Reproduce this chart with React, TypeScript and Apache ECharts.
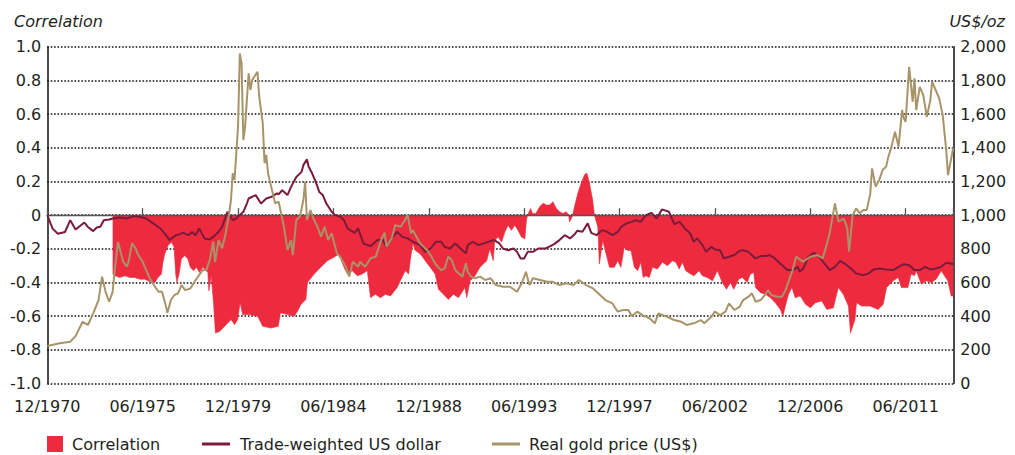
import React, { useEffect, useRef } from "react";
import * as echarts from "echarts";

// x values are months after December 1970
const AXIS_MAX_MONTH = 513;
const TICK_STEP_MONTHS = 54;

const correlation: [number, number][] = [
  [37,-0.35],[38.3,-0.36],[41.1,-0.37],[44,-0.36],[46.8,-0.37],[49.6,-0.37],[52.4,-0.38],[55.2,-0.38],[57.1,-0.39],[59,-0.40],[60.9,-0.40],[62.7,-0.37],[64.6,-0.35],[65.5,-0.28],[66.5,-0.23],[68.4,-0.18],[70.3,-0.16],[71.8,-0.19],[72.7,-0.35],[73.4,-0.40],[74.6,-0.35],[75.9,-0.26],[77.8,-0.24],[79.6,-0.26],[81,-0.31],[82.8,-0.33],[84.4,-0.31],[86.2,-0.34],[88.1,-0.31],[90.9,-0.34],[91.5,-0.45],[92.8,-0.36],[94.1,-0.52],[95.2,-0.70],[97.5,-0.69],[101.3,-0.65],[104.1,-0.62],[106,-0.65],[107.8,-0.62],[109.2,-0.52],[110.6,-0.59],[114.4,-0.59],
  [119.1,-0.60],[122,-0.66],[126.7,-0.67],[130.8,-0.66],[132,-0.58],[136.1,-0.59],[139.8,-0.60],[141.7,-0.57],[143.6,-0.53],[146.4,-0.50],[147.3,-0.40],[151.1,-0.35],[154.8,-0.31],[158.6,-0.27],[162.3,-0.25],[165.1,-0.23],[168,-0.31],[169.9,-0.35],[172.7,-0.33],[175.5,-0.36],[178.3,-0.35],[181.2,-0.33],[183,-0.49],[185.8,-0.47],[188.6,-0.49],[191.5,-0.47],[194.3,-0.48],[198.1,-0.43],[199.9,-0.39],[202.7,-0.33],[204.6,-0.35],[205.5,-0.27],[207,-0.17],[208.4,-0.21],[211.2,-0.23],[214,-0.27],[216.8,-0.31],[219.6,-0.35],[221.5,-0.44],[224.3,-0.47],[227.1,-0.50],[230,-0.47],[232.8,-0.49],[236.5,-0.43],[237.5,-0.49],[239.4,-0.39],[242.2,-0.36],[245,-0.31],[248.8,-0.27],[250.6,-0.20],[252.5,-0.27],[253.4,-0.15],[255.3,-0.13],[257.2,-0.16],[259.1,-0.10],[260.9,-0.06],[262.8,-0.09],[264.7,-0.06],[266.5,-0.09],[268.5,-0.13],[270.4,-0.14],[271.3,-0.03],[271.9,0],[273.7,0.04],[274.7,0.01],[276.6,0.01],[278.8,0.05],[280.7,0.07],[282.6,0.06],[284.4,0.06],[286.3,0.08],[288.2,0.04],[290.1,0.02],[292,0.01],[293.9,0.02],[295.2,0],[295.7,-0.04],[297.2,-0.01],[298.5,0.05],[300.4,0.13],[302.3,0.19],[304.2,0.24],[305.5,0.25],[307,0.19],[308.8,0.09],[309.8,0],[311.7,-0.07],[312.6,-0.29],[314.5,-0.15],[316.4,-0.23],[318.3,-0.31],[321.1,-0.31],[323,-0.27],[324.8,-0.31],[326.7,-0.19],[328.6,-0.21],[330.5,-0.21],[332.4,-0.31],[334.3,-0.33],[336.1,-0.28],[337.4,-0.37],[338.9,-0.36],[340.8,-0.37],[342.7,-0.31],[345.5,-0.32],[348.3,-0.28],
  [351.2,-0.30],[354,-0.27],[355.9,-0.28],[357.8,-0.32],[359.6,-0.28],[361.5,-0.33],[364.3,-0.35],[366.2,-0.36],[369,-0.33],[370.9,-0.36],[373.7,-0.37],[376.6,-0.39],[379.4,-0.33],[382.2,-0.40],[384.6,-0.44],[386.9,-0.40],[388.7,-0.44],[391.5,-0.38],[393.5,-0.37],[396.3,-0.40],[398.1,-0.35],[400,-0.34],[401,-0.43],[403.8,-0.46],[406.6,-0.47],[409.4,-0.49],[412.2,-0.52],[415.1,-0.56],[416.6,-0.60],[417.9,-0.54],[419.7,-0.47],[421.6,-0.43],[423.5,-0.49],[426.3,-0.48],[429.4,-0.53],[432.1,-0.55],[434.9,-0.52],[438.5,-0.51],[441.4,-0.56],[445.1,-0.55],[447.9,-0.43],[450.7,-0.47],[453.6,-0.54],[454.8,-0.70],[457.3,-0.62],[458.2,-0.52],[461.1,-0.54],[465.8,-0.54],[470.4,-0.56],[473.3,-0.53],[475.2,-0.43],[479,-0.39],[481.8,-0.37],[483.6,-0.43],[487.3,-0.43],[489.1,-0.35],[491.1,-0.36],[492,-0.33],[494.9,-0.41],[497.7,-0.39],[500.5,-0.40],[503.3,-0.38],[506.2,-0.33],[508,-0.36],[509.9,-0.39],[511.8,-0.48],[513,-0.48]
];

const tradeWeightedUsd: [number, number][] = [
  [0,0],[3,-0.08],[6,-0.11],[10,-0.10],[13,-0.03],[16,-0.085],[21,-0.044],[23,-0.07],[26,-0.095],[28,-0.073],[30,-0.069],[32,-0.03],[35,-0.026],[37,-0.02],[41,-0.014],[45,-0.02],[49,-0.006],[52,-0.01],[56,-0.02],[60,-0.049],[64,-0.079],[68,-0.129],[69,-0.148],[73,-0.119],[77,-0.105],[80,-0.119],[82,-0.1],[84,-0.119],[86,-0.079],[89,-0.138],[92,-0.144],[94,-0.129],[97,-0.099],[99,-0.069],[102,0.02],[105,-0.03],[107,-0.02],[109,0],[111,0.02],[113,0.069],[114,0.099],
  [118,0.119],[121,0.069],[124,0.099],[127,0.109],[130,0.129],[131,0.124],[133,0.148],[136,0.119],[138,0.168],[141,0.227],[144,0.257],[145,0.297],[147,0.331],[148,0.287],[150,0.247],[152,0.198],[154,0.138],[156,0.119],[158,0.069],[161,0.02],[163,0],[166,-0.01],[168,-0.03],[170,-0.079],[174,-0.105],[176,-0.079],[179,-0.168],[183,-0.184],[187,-0.148],[190,-0.148],[192,-0.188],[195,-0.138],[198,-0.099],[201,-0.129],[204,-0.138],[207,-0.158],[211,-0.178],[214,-0.218],[217,-0.198],[220,-0.158],[223,-0.158],[225,-0.188],[228,-0.198],[231,-0.168],[234,-0.198],[237,-0.227],[238,-0.178],[241,-0.158],[244,-0.178],[247,-0.168],[251,-0.154],[253,-0.148],[256,-0.168],[258,-0.198],[261,-0.208],[264,-0.198],[266,-0.218],[268,-0.257],[270,-0.257],[272,-0.218],[275,-0.218],[278,-0.198],[282,-0.198],[284,-0.188],[287,-0.172],[290,-0.148],[293,-0.119],[296,-0.138],[299,-0.109],[300,-0.093],[303,-0.099],[306,-0.049],[308,-0.105],[311,-0.119],[314,-0.089],[317,-0.099],[320,-0.119],[323,-0.099],[325,-0.069],[328,-0.049],[331,-0.04],[333,-0.03],[336,-0.04],[339,0],[342,0.014],[345,-0.02],[348,0.034],
  [352,0.02],[355,-0.053],[358,-0.04],[361,-0.079],[364,-0.109],[366,-0.158],[368,-0.138],[371,-0.178],[373,-0.218],[376,-0.188],[378,-0.204],[381,-0.208],[383,-0.257],[386,-0.247],[389,-0.237],[392,-0.212],[394,-0.208],[397,-0.218],[401,-0.257],[404,-0.243],[407,-0.243],[409,-0.237],[412,-0.257],[415,-0.287],[419,-0.326],[422,-0.326],[425,-0.307],[426,-0.336],[428,-0.317],[431,-0.247],[434,-0.224],[437,-0.247],[440,-0.287],[443,-0.326],[446,-0.307],[449,-0.271],[452,-0.291],[455,-0.317],[458,-0.346],[462,-0.356],[465,-0.346],[468,-0.322],[471,-0.317],[475,-0.322],[479,-0.326],[482,-0.307],[485,-0.291],[488,-0.297],[491,-0.326],[494,-0.326],[497,-0.307],[500,-0.322],[503,-0.317],[506,-0.307],[509,-0.283],[513,-0.29]
];

const realGoldPrice: [number, number][] = [
  [0,223],[7,239],[13,249],[16,282],[20,367],[23,348],[26,417],[29,496],[31,635],[33,545],[35,486],[37,545],[38,656],[40,842],[43,723],[45,694],[46,723],[48,833],[50,803],[51,773],[54,723],[56,674],[58,625],[61,575],[63,545],[65,545],[67,466],[68,421],[70,496],[72,526],[74,536],[76,585],[78,555],[81,565],[84,615],[88,674],[90,674],[92,734],[94,842],[95,723],[97,852],[99,803],[101,892],[103,1011],[104,1090],[105,1248],[106,1208],[108,1525],[109,1960],[110,1901],[111,1446],[112,1525],[114,1842],[115,1743],[116,1802],
  [119,1851],[120,1703],[122,1545],[123,1308],[124,1357],[125,1248],[127,1159],[129,1070],[131,1080],[132,1030],[134,931],[136,793],[138,852],[139,763],[141,971],[143,990],[145,1090],[146,1198],[147,971],[149,1030],[151,971],[153,931],[155,872],[157,931],[159,852],[161,892],[162,852],[164,773],[166,750],[169,694],[171,635],[173,723],[176,694],[177,723],[180,694],[183,744],[186,753],[189,852],[191,896],[192,813],[195,862],[197,941],[200,931],[202,961],[204,1001],[206,892],[207,911],[209,872],[211,833],[213,813],[215,793],[217,763],[219,723],[221,694],[223,674],[225,684],[227,753],[229,734],[231,674],[233,654],[235,635],[237,714],[238,664],[240,635],[242,625],[245,635],[248,615],[251,625],[254,585],[258,575],[262,575],[266,545],[269,605],[271,664],[273,585],[275,625],[279,615],[283,605],[286,605],[290,585],[294,595],[298,585],[301,615],[305,585],[309,565],[313,526],[316,496],[320,476],[323,427],[326,437],[329,437],[331,401],[334,427],[337,407],[341,388],[344,358],[346,417],
  [351,397],[355,377],[359,367],[362,348],[366,358],[370,377],[372,358],[376,397],[378,427],[381,407],[384,427],[386,476],[389,437],[392,456],[394,496],[397,516],[399,536],[401,486],[404,496],[407,536],[408,555],[410,526],[413,516],[416,516],[418,555],[420,615],[422,674],[424,753],[428,723],[432,753],[436,763],[439,744],[441,813],[443,892],[446,1070],[448,961],[451,980],[453,921],[454,783],[456,1001],[458,1040],[460,1011],[462,1030],[464,1030],[466,1129],[467,1278],[469,1169],[471,1208],[473,1268],[475,1288],[476,1337],[478,1406],[480,1495],[482,1406],[484,1624],[485,1574],[486,1554],[488,1881],[490,1673],[491,1812],[492,1624],[494,1762],[496,1713],[498,1584],[500,1683],[501,1792],[503,1743],[505,1693],[507,1594],[509,1386],[510,1238],[513,1400]
];

const SERIES_NAMES = ["Correlation", "Trade-weighted US dollar", "Real gold price (US$)"];
const LEFT_AXIS_TITLE = "Correlation";
const RIGHT_AXIS_TITLE = "US$/oz";

const RED = "#EE2B3E";
const MAROON = "#7B1A3C";
const GOLD = "#A89468";
const TEXT = "#231F20";
const FONT = '"DejaVu Sans", sans-serif';

function monthLabel(m: number): string {
  const t = 11 + Math.round(m);
  const year = 1970 + Math.floor(t / 12);
  const mon = (t % 12) + 1;
  return (mon < 10 ? "0" : "") + mon + "/" + year;
}

export default function App() {
  const ref = useRef<HTMLDivElement>(null);
  useEffect(() => {
    if (!ref.current) return;
    const chart = echarts.init(ref.current, undefined, { renderer: "svg" });
    const dotted = { color: "#111", width: 1.5, type: [1.6, 1.8] as any };
    const legendText = { fontSize: 16, fontFamily: FONT, color: TEXT, lineHeight: 16 };
    chart.setOption({
      animation: false,
      grid: { left: 47.3, right: 61.7, top: 46.7, bottom: 71.4, containLabel: false },
      xAxis: [
        {
          type: "value", min: 0, max: AXIS_MAX_MONTH, interval: TICK_STEP_MONTHS,
          position: "bottom",
          axisLine: { show: false, onZero: false },
          axisTick: { show: false },
          splitLine: { show: false },
          axisLabel: {
            show: true, margin: 15, fontSize: 16, fontFamily: FONT, color: TEXT,
            showMaxLabel: false,
            formatter: (v: number) => (Math.abs(v % TICK_STEP_MONTHS) < 1e-6 ? monthLabel(v) : ""),
          },
        },
        {
          type: "value", min: 0, max: AXIS_MAX_MONTH, interval: TICK_STEP_MONTHS,
          position: "top", z: 2,
          axisLine: { show: true, onZero: true, onZeroAxisIndex: 0, lineStyle: { color: "#555", width: 1.3 } },
          axisTick: { show: true, inside: false, length: 7, lineStyle: { color: "#555", width: 1.3 } },
          axisLabel: { show: false },
          splitLine: { show: false },
        },
      ],
      yAxis: [
        {
          type: "value", min: -1, max: 1, interval: 0.2, position: "left",
          axisLine: { show: true, onZero: false, lineStyle: { color: "#111", width: 1.5 } },
          axisTick: { show: false },
          splitLine: { show: true, lineStyle: dotted },
          axisLabel: {
            margin: 6, fontSize: 16, fontFamily: FONT, color: TEXT,
            formatter: (v: number) => (Math.abs(v) < 1e-9 ? "0" : v.toFixed(1)),
          },
        },
        {
          type: "value", min: 0, max: 2000, interval: 200, position: "right",
          axisLine: { show: true, onZero: false, lineStyle: { color: "#111", width: 1.5 } },
          axisTick: { show: false },
          splitLine: { show: false },
          axisLabel: {
            margin: 7, fontSize: 16, fontFamily: FONT, color: TEXT,
            formatter: (v: number) => v.toLocaleString("en-US"),
          },
        },
      ],
      legend: [
        {
          data: [SERIES_NAMES[0]], left: 47, top: 436, padding: 0, icon: "rect",
          itemWidth: 16, itemHeight: 16, selectedMode: false,
          textStyle: { ...legendText, padding: [0, 0, 0, 4] },
        },
        {
          data: [SERIES_NAMES[1]], left: 202, top: 436, padding: 0, icon: "rect",
          itemWidth: 28, itemHeight: 3, selectedMode: false,
          textStyle: { ...legendText, padding: [0, 0, 0, 5] },
        },
        {
          data: [SERIES_NAMES[2]], left: 492, top: 436, padding: 0, icon: "rect",
          itemWidth: 28, itemHeight: 3, selectedMode: false,
          textStyle: { ...legendText, padding: [0, 0, 0, 4] },
        },
      ],
      graphic: [
        {
          type: "text", x: 14, y: 21,
          style: { text: LEFT_AXIS_TITLE, fill: TEXT, font: 'italic 16px "DejaVu Sans", sans-serif', align: "left", verticalAlign: "middle" },
        },
        {
          type: "text", x: 1005, y: 21,
          style: { text: RIGHT_AXIS_TITLE, fill: TEXT, font: 'italic 16px "DejaVu Sans", sans-serif', align: "right", verticalAlign: "middle" },
        },
      ],
      series: [
        {
          name: SERIES_NAMES[0], type: "line", xAxisIndex: 0, yAxisIndex: 0,
          data: correlation, symbol: "none", showSymbol: false, z: 1,
          lineStyle: { width: 0.6, color: RED },
          itemStyle: { color: RED },
          areaStyle: { color: RED, opacity: 1, origin: 0 },
        },
        {
          name: SERIES_NAMES[1], type: "line", xAxisIndex: 0, yAxisIndex: 0,
          data: tradeWeightedUsd, symbol: "none", showSymbol: false, z: 3,
          lineStyle: { width: 2, color: MAROON },
          itemStyle: { color: MAROON },
        },
        {
          name: SERIES_NAMES[2], type: "line", xAxisIndex: 0, yAxisIndex: 1,
          data: realGoldPrice, symbol: "none", showSymbol: false, z: 3,
          lineStyle: { width: 2, color: GOLD },
          itemStyle: { color: GOLD },
        },
      ],
    });
    return () => chart.dispose();
  }, []);
  return (
    <div
      ref={ref}
      style={{ position: "fixed", left: 0, top: 0, width: 1015, height: 455, background: "#fff" }}
    />
  );
}
